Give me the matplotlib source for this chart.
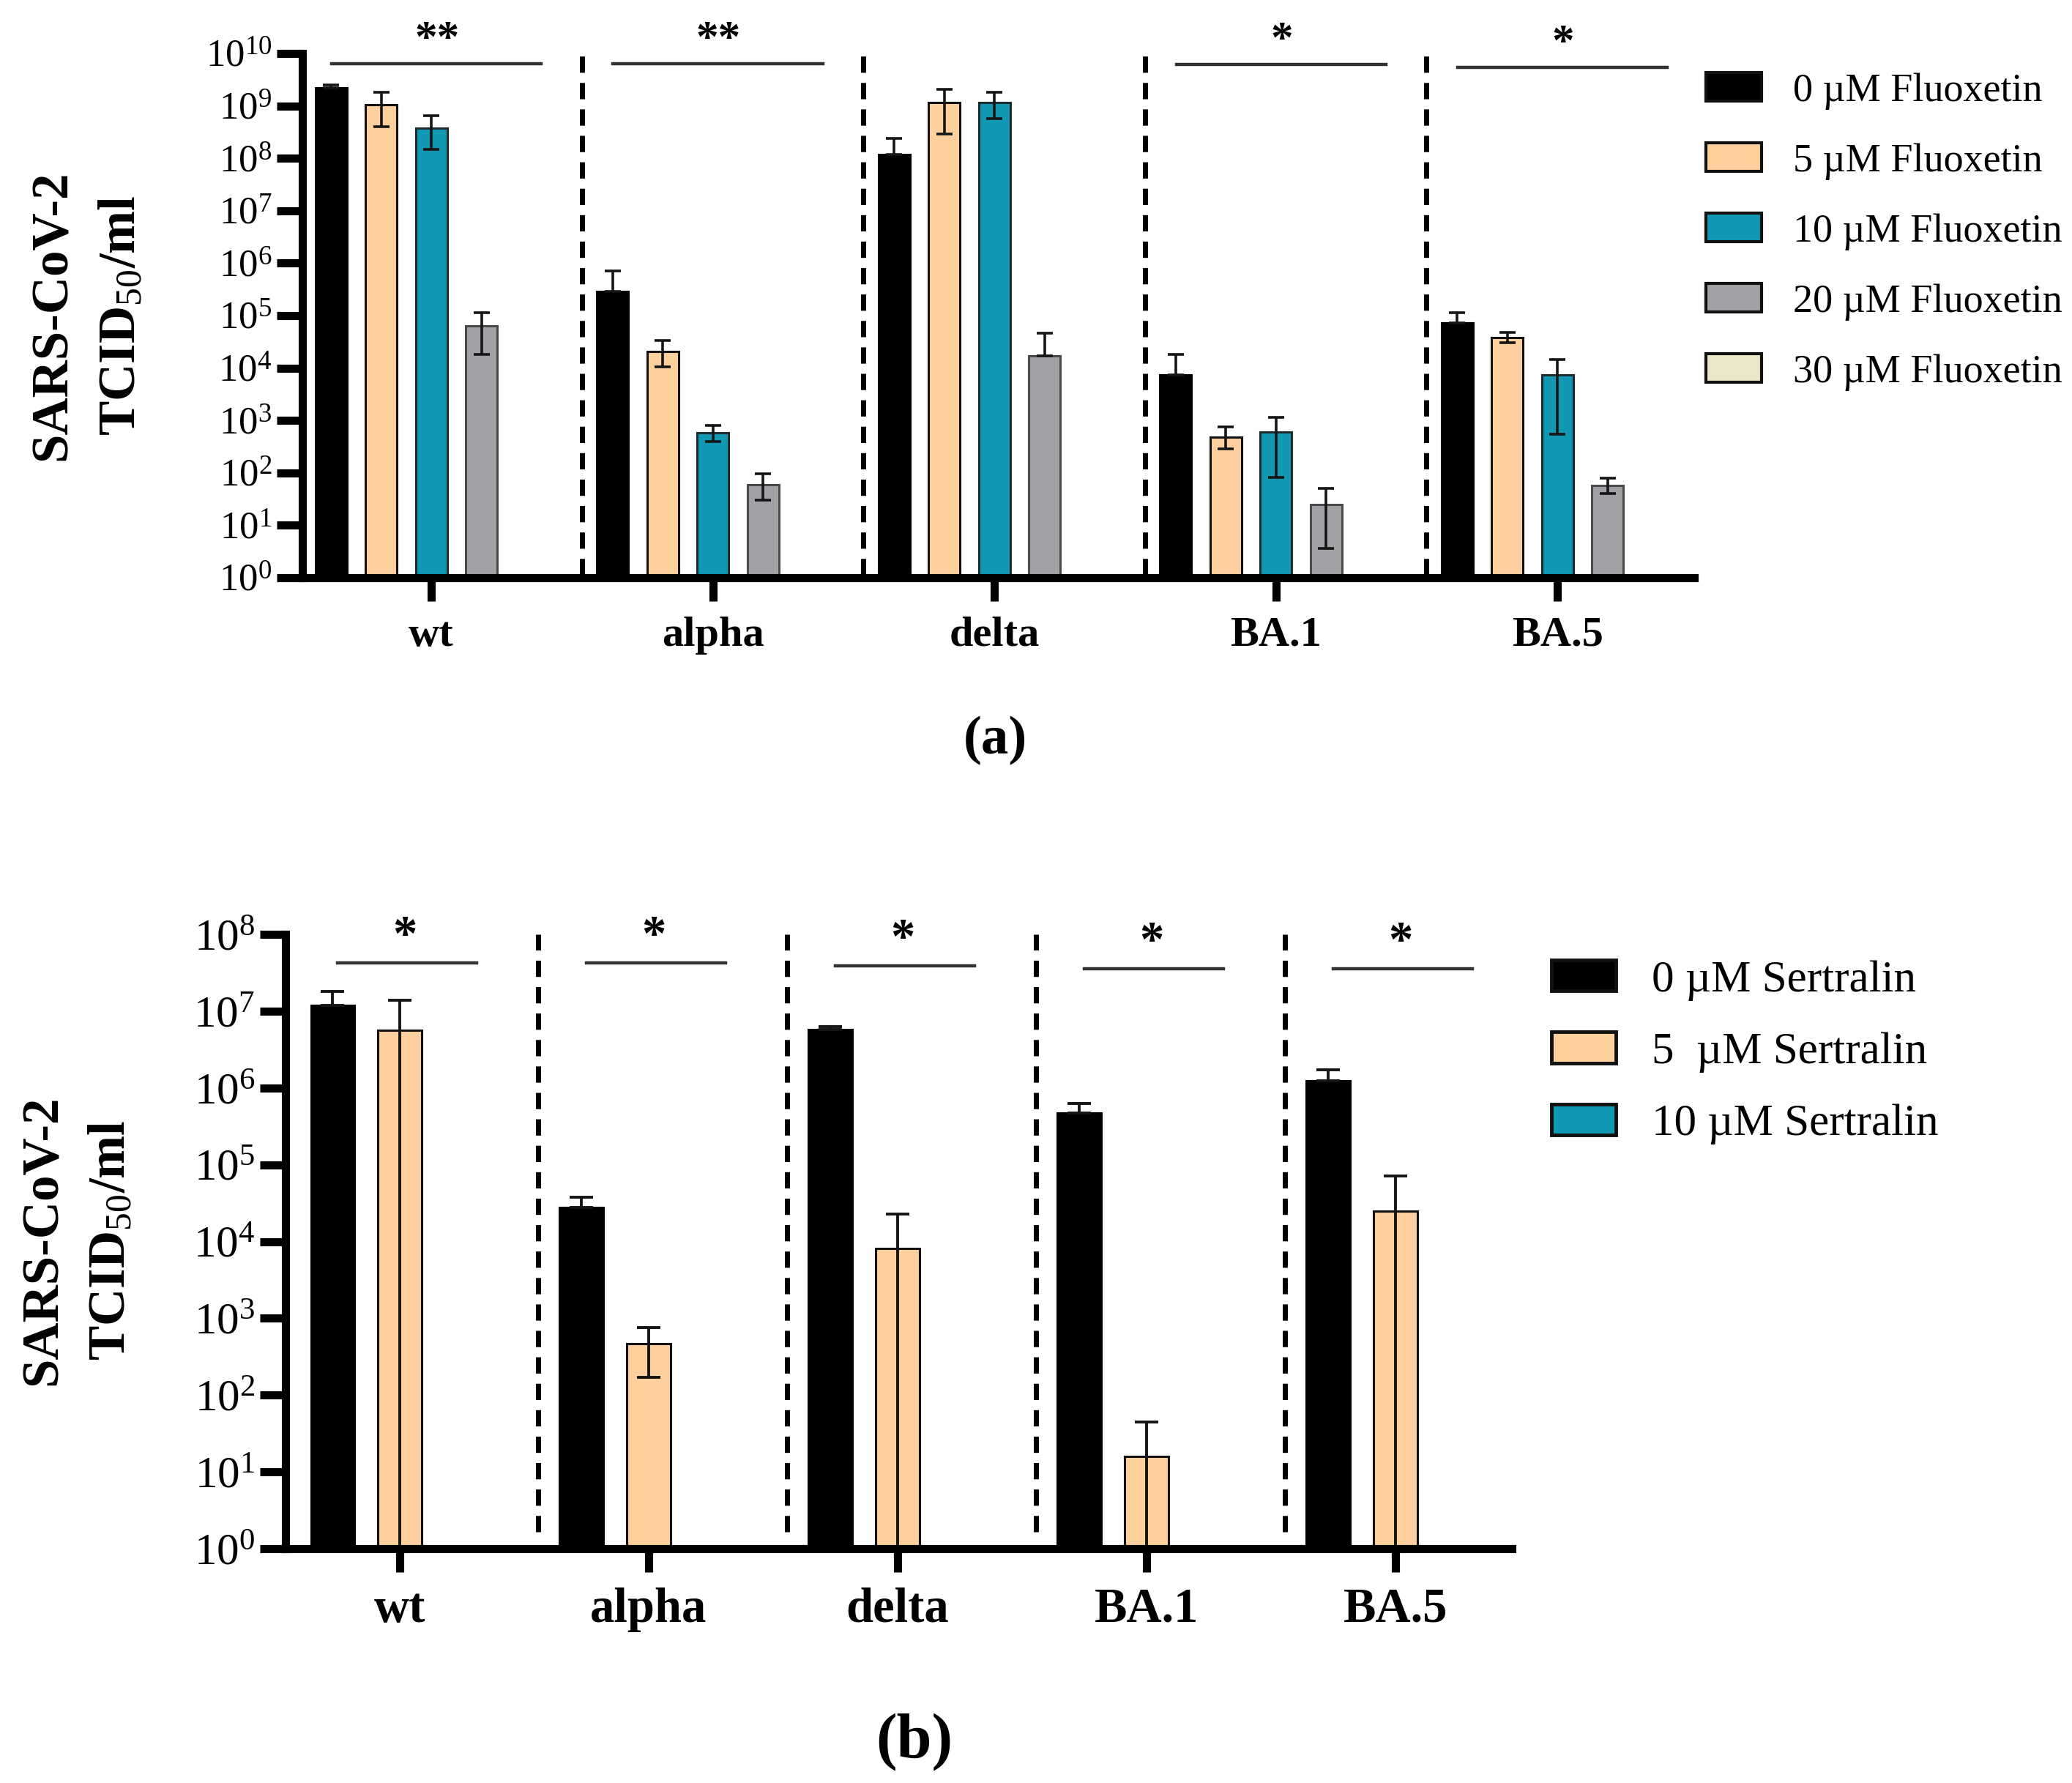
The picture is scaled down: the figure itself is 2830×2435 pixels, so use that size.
import numpy as np
import matplotlib
matplotlib.use('Agg')
import matplotlib.pyplot as plt
from matplotlib.patches import Patch
from matplotlib.ticker import FixedLocator, FuncFormatter, NullLocator

plt.rcParams['font.family'] = ['Liberation Serif', 'DejaVu Serif']
plt.rcParams['mathtext.fontset'] = 'custom'
plt.rcParams['mathtext.rm'] = 'Liberation Serif'
plt.rcParams['mathtext.it'] = 'Liberation Serif:italic'
plt.rcParams['mathtext.bf'] = 'Liberation Serif:bold'

# ---------------- data ----------------
variants = ['wt', 'alpha', 'delta', 'BA.1', 'BA.5']

# Panel (a): Fluoxetin
flx_labels = ['0 µM Fluoxetin', '5 µM Fluoxetin', '10 µM Fluoxetin',
              '20 µM Fluoxetin', '30 µM Fluoxetin']
flx_0 = [2.2e9, 2.9e5, 1.2e8, 7.3e3, 7.2e4]
flx_0_lo = [2.2e9, 2.9e5, 1.2e8, 7.3e3, 7.2e4]
flx_0_hi = [2.5e9, 7.2e5, 2.4e8, 1.8e4, 1.15e5]
flx_5 = [1.05e9, 2.1e4, 1.15e9, 480, 3.8e4]
flx_5_lo = [4.0e8, 1.05e4, 2.9e8, 290, 3.0e4]
flx_5_hi = [1.8e9, 3.3e4, 2.1e9, 760, 4.8e4]
flx_10 = [3.8e8, 575, 1.15e9, 600, 7.3e3]
flx_10_lo = [1.5e8, 400, 5.8e8, 83, 550]
flx_10_hi = [6.6e8, 800, 1.8e9, 1.15e3, 1.45e4]
flx_20 = [6.3e4, 60, 1.7e4, 25, 58]
flx_20_lo = [1.8e4, 30, 1.7e4, 3.6, 40]
flx_20_hi = [1.15e5, 95, 4.6e4, 50, 80]
flx_sig = ['**', '**', '', '*', '*']

# Panel (b): Sertralin
sert_labels = ['0 µM Sertralin', '5  µM Sertralin', '10 µM Sertralin']
sert_0 = [1.2e7, 2.8e4, 5.7e6, 4.7e5, 1.23e6]
sert_0_lo = [1.2e7, 2.8e4, 5.7e6, 4.7e5, 1.23e6]
sert_0_hi = [1.8e7, 3.8e4, 6.3e6, 6.3e5, 1.74e6]
sert_5 = [5.6e6, 465, 8.1e3, 16, 2.5e4]
sert_5_lo = [1, 170, 1, 1, 1]
sert_5_hi = [1.38e7, 760, 2.3e4, 45, 7.1e4]
sert_sig = ['*', '*', '*', '*', '*']

# ---------------- styles ----------------
col_fill = ['#000000', '#FDD09E', '#1198B3', '#A2A1A6', '#ECE7CB']
col_edge = ['#000000', '#111111', '#1b2b30', '#4a4a4a', '#111111']

W, H = 2830, 2435
fig = plt.figure(figsize=(W / 100, H / 100), dpi=100)


def px_rect(l, r, t, b):
    return [l / W, 1 - b / H, (r - l) / W, (b - t) / H]


def style_axes(ax, top_exp, ticksize, catsize):
    ax.set_yscale('log')
    ax.set_ylim(1, 10.0 ** top_exp)
    ax.yaxis.set_major_locator(FixedLocator(10.0 ** np.arange(0, top_exp + 1)))
    ax.yaxis.set_minor_locator(NullLocator())
    ax.yaxis.set_major_formatter(FuncFormatter(
        lambda v, p: r'$\mathregular{10^{%d}}$' % int(round(np.log10(v)))))
    ax.set_xticks(range(len(variants)))
    ax.set_xticklabels(variants, fontweight='bold', fontsize=catsize)
    for s in ['top', 'right']:
        ax.spines[s].set_visible(False)
    for s in ['left', 'bottom']:
        ax.spines[s].set_linewidth(8)
        ax.spines[s].set_zorder(4)
    ax.tick_params(axis='y', length=25, width=8, labelsize=ticksize, pad=5)
    ax.tick_params(axis='x', length=23, width=8, pad=15)
    ax.set_facecolor('none')


def draw_series(ax, series, offsets, width, bar_lw, elw, cap):
    for k, (m, lo, hi) in enumerate(series):
        m = np.asarray(m, float)
        lo = np.asarray(lo, float)
        hi = np.asarray(hi, float)
        xs = np.arange(len(variants)) + offsets[k]
        ax.bar(xs, m, width=width, color=col_fill[k], edgecolor=col_edge[k],
               linewidth=bar_lw, zorder=2)
        ax.errorbar(xs, m, yerr=[m - lo, hi - m], fmt='none', ecolor='#151515',
                    elinewidth=elw, capsize=cap, capthick=elw, zorder=3)


# ---------------- panel (a) ----------------
axA = fig.add_axes(px_rect(413, 2314, 73, 789))
style_axes(axA, 10, 38, 42)
axA.set_xlim(-0.458, 4.486)
draw_series(axA,
            [(flx_0, flx_0_lo, flx_0_hi), (flx_5, flx_5_lo, flx_5_hi),
             (flx_10, flx_10_lo, flx_10_hi), (flx_20, flx_20_lo, flx_20_hi)],
            (np.arange(5) - 2) * 0.178, 0.112, 2.2, 2.6, 8)
for i in range(4):
    axA.plot([i + 0.535] * 2, [1.15, 1e10], color='black', lw=5,
             linestyle=(0, (3.2, 2.0)), zorder=1)
sigA_y = [9.8, 9.8, 9.8, 9.79, 9.73]
for i, s in enumerate(flx_sig):
    if not s:
        continue
    axA.plot([i - 0.354, i + 0.39], [10 ** sigA_y[i]] * 2, color='#333333',
             lw=3.2, clip_on=False, zorder=3)
    axA.text(i + 0.02, 10 ** (sigA_y[i] + 0.24), s, ha='center', va='baseline',
             fontsize=44, fontweight='bold', clip_on=False)

fig.text(90 / W, 1 - 431 / H, 'SARS-CoV-2', rotation=90, rotation_mode='anchor',
         ha='center', va='baseline', fontsize=51, fontweight='bold')
fig.text(185 / W, 1 - 431 / H, r'TCID$_{\mathrm{50}}$/ml', rotation=90,
         rotation_mode='anchor', ha='center', va='baseline', fontsize=51,
         fontweight='bold')

handlesA = [Patch(facecolor=col_fill[k], edgecolor='#111111', linewidth=3,
                  label=flx_labels[k]) for k in range(5)]
fig.legend(handles=handlesA, loc='upper left',
           bbox_to_anchor=(2330 / W, 1 - 99 / H), frameon=False, fontsize=39,
           handlelength=1.4, handleheight=0.72, handletextpad=0.8,
           labelspacing=0.84, borderpad=0, borderaxespad=0)

fig.text(1359 / W, 1 - 1011 / H, '(a)', ha='center', va='center', fontsize=54,
         fontweight='bold')

# ---------------- panel (b) ----------------
axB = fig.add_axes(px_rect(390, 2065, 1276, 2115))
style_axes(axB, 8, 44, 48)
axB.set_xlim(-0.459, 4.468)
draw_series(axB,
            [(sert_0, sert_0_lo, sert_0_hi), (sert_5, sert_5_lo, sert_5_hi)],
            (np.arange(3) - 1) * 0.27, 0.175, 2.2, 2.8, 11.5)
for i in range(4):
    axB.plot([i + 0.555] * 2, [1.65, 1e8], color='black', lw=5,
             linestyle=(0, (3.2, 2.0)), zorder=1)
sigB_y = [7.63, 7.63, 7.59, 7.55, 7.55]
for i, s in enumerate(sert_sig):
    axB.plot([i - 0.25, i + 0.31], [10 ** sigB_y[i]] * 2, color='#333333',
             lw=3.2, clip_on=False, zorder=3)
    axB.text(i + 0.02, 10 ** (sigB_y[i] + 0.18), s, ha='center', va='baseline',
             fontsize=48, fontweight='bold', clip_on=False)

fig.text(77 / W, 1 - 1694 / H, 'SARS-CoV-2', rotation=90, rotation_mode='anchor',
         ha='center', va='baseline', fontsize=51, fontweight='bold')
fig.text(171 / W, 1 - 1694 / H, r'TCID$_{\mathrm{50}}$/ml', rotation=90,
         rotation_mode='anchor', ha='center', va='baseline', fontsize=51,
         fontweight='bold')

handlesB = [Patch(facecolor=col_fill[k], edgecolor='#111111', linewidth=3.5,
                  label=sert_labels[k]) for k in range(3)]
fig.legend(handles=handlesB, loc='upper left',
           bbox_to_anchor=(2119 / W, 1 - 1311 / H), frameon=False, fontsize=44,
           handlelength=1.44, handleheight=0.69, handletextpad=0.8,
           labelspacing=0.7, borderpad=0, borderaxespad=0)

fig.text(1249 / W, 1 - 2379 / H, '(b)', ha='center', va='center', fontsize=62,
         fontweight='bold')

fig.savefig('out.png', dpi=100, facecolor='white')
